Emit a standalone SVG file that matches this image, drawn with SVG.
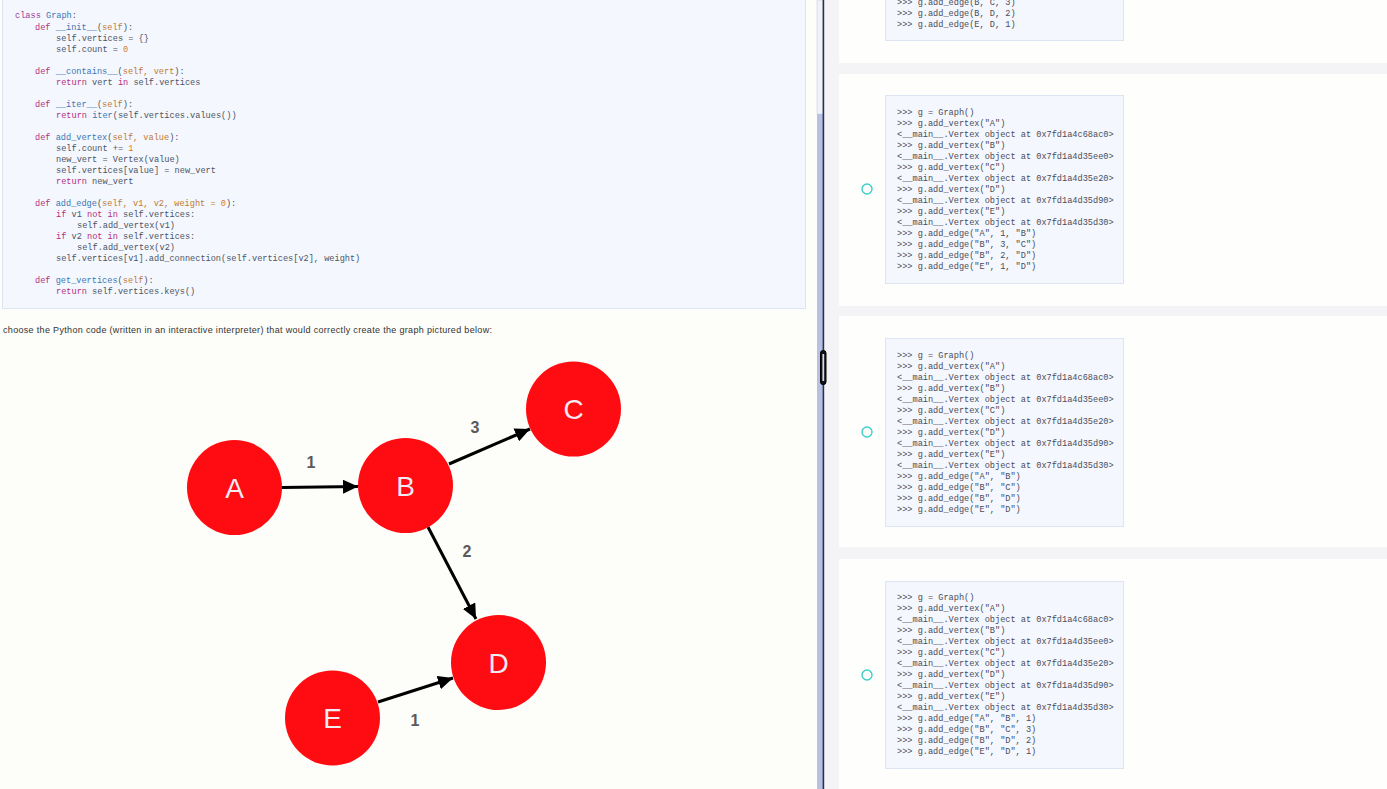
<svg xmlns="http://www.w3.org/2000/svg" width="1387" height="789" viewBox="0 0 1387 789">
<style>
.code{font-family:"Liberation Mono","DejaVu Sans Mono",monospace;font-size:8.6px;fill:#4a5466;white-space:pre}
.kw{fill:#b52f80}
.cl{fill:#9a3a96}
.fn{fill:#3a76b6}
.pa{fill:#c07a34}
.nu{fill:#d9782c}
.rc{font-family:"Liberation Mono","DejaVu Sans Mono",monospace;font-size:8.6px;fill:#4a4c5a;white-space:pre}
.box{fill:#f4f7fd;stroke:#dde4f2;stroke-width:1}
.card{fill:#fefefc}
.radio{fill:none;stroke:#3ccfcb;stroke-width:1.4}
.node{fill:#ff0b12}
.nl{font-family:"Liberation Sans",Arial,sans-serif;font-size:28px;fill:#f4eaf4;text-anchor:middle}
.el{font-family:"Liberation Sans",Arial,sans-serif;font-size:16px;font-weight:bold;fill:#5a5a5a;text-anchor:middle}
.edge{stroke:#000;stroke-width:3;fill:none;marker-end:url(#ah)}
</style>
<defs>
<marker id="ah" markerUnits="userSpaceOnUse" markerWidth="16" markerHeight="14" viewBox="0 0 16 14" refX="15" refY="7" orient="auto">
<path d="M0,0 L15,7 L0,14 Z" fill="#000"/>
</marker>
</defs>
<rect x="0" y="0" width="1387" height="789" fill="#fdfdf9"/>
<!-- right panel background -->
<rect x="823" y="0" width="564" height="789" fill="#f4f4f6"/>
<rect class="card" x="839" y="-5" width="548" height="68"/>
<rect class="card" x="839" y="74" width="548" height="232"/>
<rect class="card" x="839" y="316" width="548" height="231"/>
<rect class="card" x="839" y="559" width="548" height="235"/>
<!-- scrollbar -->
<rect x="817" y="0" width="6" height="114" fill="#f0f2fa" stroke="#c9cfe8" stroke-width="0.6"/>
<rect x="817" y="114" width="6" height="675" fill="#b8c0e3"/>
<rect x="822.6" y="0" width="1.6" height="789" fill="#2b3152"/>
<rect id="scroll-handle" x="820.5" y="350.5" width="5.5" height="34" rx="2.6" fill="#111" stroke="#000"/>
<rect x="822.4" y="354" width="1.8" height="27" fill="#d7dbe9"/>

<!-- left code box -->
<g id="class-code">
<rect class="box" x="2.5" y="-2" width="803" height="310.5"/>
<text class="code" x="15" y="18"><tspan class="cl">class</tspan> <tspan class="fn">Graph</tspan>:</text>
<text class="code" x="35" y="30"><tspan class="kw">def</tspan> <tspan class="fn">__init__</tspan>(<tspan class="pa">self</tspan>):</text>
<text class="code" x="56" y="41">self.vertices = {}</text>
<text class="code" x="56" y="52">self.count = <tspan class="nu">0</tspan></text>
<text class="code" x="35" y="74"><tspan class="kw">def</tspan> <tspan class="fn">__contains__</tspan>(<tspan class="pa">self, vert</tspan>):</text>
<text class="code" x="56" y="85"><tspan class="kw">return</tspan> vert <tspan class="kw">in</tspan> self.vertices</text>
<text class="code" x="35" y="107"><tspan class="kw">def</tspan> <tspan class="fn">__iter__</tspan>(<tspan class="pa">self</tspan>):</text>
<text class="code" x="56" y="118"><tspan class="kw">return</tspan> <tspan class="fn">iter</tspan>(self.vertices.values())</text>
<text class="code" x="35" y="140"><tspan class="kw">def</tspan> <tspan class="fn">add_vertex</tspan>(<tspan class="pa">self, value</tspan>):</text>
<text class="code" x="56" y="151">self.count += <tspan class="nu">1</tspan></text>
<text class="code" x="56" y="162">new_vert = Vertex(value)</text>
<text class="code" x="56" y="173">self.vertices[value] = new_vert</text>
<text class="code" x="56" y="184"><tspan class="kw">return</tspan> new_vert</text>
<text class="code" x="35" y="206"><tspan class="kw">def</tspan> <tspan class="fn">add_edge</tspan>(<tspan class="pa">self, v1, v2, weight = </tspan><tspan class="nu">0</tspan>):</text>
<text class="code" x="56" y="217"><tspan class="kw">if</tspan> v1 <tspan class="kw">not in</tspan> self.vertices:</text>
<text class="code" x="77" y="228">self.add_vertex(v1)</text>
<text class="code" x="56" y="239"><tspan class="kw">if</tspan> v2 <tspan class="kw">not in</tspan> self.vertices:</text>
<text class="code" x="77" y="250">self.add_vertex(v2)</text>
<text class="code" x="56" y="261">self.vertices[v1].add_connection(self.vertices[v2], weight)</text>
<text class="code" x="35" y="283"><tspan class="kw">def</tspan> <tspan class="fn">get_vertices</tspan>(<tspan class="pa">self</tspan>):</text>
<text class="code" x="56" y="294"><tspan class="kw">return</tspan> self.vertices.keys()</text>
</g>

<text id="prompt" x="3" y="333" font-family="Liberation Sans, Arial, sans-serif" font-size="9" fill="#333" textLength="489" lengthAdjust="spacing">choose the Python code (written in an interactive interpreter) that would correctly create the graph pictured below:</text>

<!-- connectors -->
<g id="connectors">
<line class="edge" x1="282" y1="487.5" x2="358" y2="486.5"/>
<line class="edge" x1="449" y1="464" x2="530" y2="429"/>
<line class="edge" x1="428" y1="527" x2="476" y2="619"/>
<line class="edge" x1="378" y1="702" x2="453" y2="678"/>
<text class="el" x="311" y="468">1</text>
<text class="el" x="475" y="433">3</text>
<text class="el" x="467" y="557">2</text>
<text class="el" x="415" y="726">1</text>
</g>

<g id="node-A"><circle class="node" cx="234.5" cy="487.5" r="47.5"/><text class="nl" x="234.5" y="497.5">A</text></g>
<g id="node-B"><circle class="node" cx="405.5" cy="485.5" r="47.5"/><text class="nl" x="405.5" y="495.5">B</text></g>
<g id="node-C"><circle class="node" cx="573.5" cy="409" r="47.5"/><text class="nl" x="573.5" y="419">C</text></g>
<g id="node-D"><circle class="node" cx="498.5" cy="662.5" r="47.5"/><text class="nl" x="498.5" y="672.5">D</text></g>
<g id="node-E"><circle class="node" cx="332.5" cy="718" r="47.5"/><text class="nl" x="332.5" y="728">E</text></g>

<!-- option 1 (partially scrolled) -->
<g id="option-1">
<rect class="box" x="885.5" y="-5" width="238" height="45.5"/>
<text class="rc" x="897" y="5">&gt;&gt;&gt; g.add_edge(B, C, 3)</text>
<text class="rc" x="897" y="16">&gt;&gt;&gt; g.add_edge(B, D, 2)</text>
<text class="rc" x="897" y="27">&gt;&gt;&gt; g.add_edge(E, D, 1)</text>
</g>

<!-- option 2 -->
<g id="option-2">
<circle class="radio" cx="867" cy="189" r="5"/>
<rect class="box" x="885.5" y="95.5" width="238" height="188"/>
<text class="rc" x="897" y="115">&gt;&gt;&gt; g = Graph()</text>
<text class="rc" x="897" y="126">&gt;&gt;&gt; g.add_vertex("A")</text>
<text class="rc" x="897" y="137">&lt;__main__.Vertex object at 0x7fd1a4c68ac0&gt;</text>
<text class="rc" x="897" y="148">&gt;&gt;&gt; g.add_vertex("B")</text>
<text class="rc" x="897" y="159">&lt;__main__.Vertex object at 0x7fd1a4d35ee0&gt;</text>
<text class="rc" x="897" y="170">&gt;&gt;&gt; g.add_vertex("C")</text>
<text class="rc" x="897" y="181">&lt;__main__.Vertex object at 0x7fd1a4d35e20&gt;</text>
<text class="rc" x="897" y="192">&gt;&gt;&gt; g.add_vertex("D")</text>
<text class="rc" x="897" y="203">&lt;__main__.Vertex object at 0x7fd1a4d35d90&gt;</text>
<text class="rc" x="897" y="214">&gt;&gt;&gt; g.add_vertex("E")</text>
<text class="rc" x="897" y="225">&lt;__main__.Vertex object at 0x7fd1a4d35d30&gt;</text>
<text class="rc" x="897" y="236">&gt;&gt;&gt; g.add_edge("A", 1, "B")</text>
<text class="rc" x="897" y="247">&gt;&gt;&gt; g.add_edge("B", 3, "C")</text>
<text class="rc" x="897" y="258">&gt;&gt;&gt; g.add_edge("B", 2, "D")</text>
<text class="rc" x="897" y="269">&gt;&gt;&gt; g.add_edge("E", 1, "D")</text>
</g>

<!-- option 3 -->
<g id="option-3">
<circle class="radio" cx="867" cy="432" r="5"/>
<rect class="box" x="885.5" y="338.5" width="238" height="188"/>
<text class="rc" x="897" y="358">&gt;&gt;&gt; g = Graph()</text>
<text class="rc" x="897" y="369">&gt;&gt;&gt; g.add_vertex("A")</text>
<text class="rc" x="897" y="380">&lt;__main__.Vertex object at 0x7fd1a4c68ac0&gt;</text>
<text class="rc" x="897" y="391">&gt;&gt;&gt; g.add_vertex("B")</text>
<text class="rc" x="897" y="402">&lt;__main__.Vertex object at 0x7fd1a4d35ee0&gt;</text>
<text class="rc" x="897" y="413">&gt;&gt;&gt; g.add_vertex("C")</text>
<text class="rc" x="897" y="424">&lt;__main__.Vertex object at 0x7fd1a4d35e20&gt;</text>
<text class="rc" x="897" y="435">&gt;&gt;&gt; g.add_vertex("D")</text>
<text class="rc" x="897" y="446">&lt;__main__.Vertex object at 0x7fd1a4d35d90&gt;</text>
<text class="rc" x="897" y="457">&gt;&gt;&gt; g.add_vertex("E")</text>
<text class="rc" x="897" y="468">&lt;__main__.Vertex object at 0x7fd1a4d35d30&gt;</text>
<text class="rc" x="897" y="479">&gt;&gt;&gt; g.add_edge("A", "B")</text>
<text class="rc" x="897" y="490">&gt;&gt;&gt; g.add_edge("B", "C")</text>
<text class="rc" x="897" y="501">&gt;&gt;&gt; g.add_edge("B", "D")</text>
<text class="rc" x="897" y="512">&gt;&gt;&gt; g.add_edge("E", "D")</text>
</g>

<!-- option 4 -->
<g id="option-4">
<circle class="radio" cx="867" cy="675" r="5"/>
<rect class="box" x="885.5" y="581.5" width="238" height="187"/>
<text class="rc" x="897" y="600">&gt;&gt;&gt; g = Graph()</text>
<text class="rc" x="897" y="611">&gt;&gt;&gt; g.add_vertex("A")</text>
<text class="rc" x="897" y="622">&lt;__main__.Vertex object at 0x7fd1a4c68ac0&gt;</text>
<text class="rc" x="897" y="633">&gt;&gt;&gt; g.add_vertex("B")</text>
<text class="rc" x="897" y="644">&lt;__main__.Vertex object at 0x7fd1a4d35ee0&gt;</text>
<text class="rc" x="897" y="655">&gt;&gt;&gt; g.add_vertex("C")</text>
<text class="rc" x="897" y="666">&lt;__main__.Vertex object at 0x7fd1a4d35e20&gt;</text>
<text class="rc" x="897" y="677">&gt;&gt;&gt; g.add_vertex("D")</text>
<text class="rc" x="897" y="688">&lt;__main__.Vertex object at 0x7fd1a4d35d90&gt;</text>
<text class="rc" x="897" y="699">&gt;&gt;&gt; g.add_vertex("E")</text>
<text class="rc" x="897" y="710">&lt;__main__.Vertex object at 0x7fd1a4d35d30&gt;</text>
<text class="rc" x="897" y="721">&gt;&gt;&gt; g.add_edge("A", "B", 1)</text>
<text class="rc" x="897" y="732">&gt;&gt;&gt; g.add_edge("B", "C", 3)</text>
<text class="rc" x="897" y="743">&gt;&gt;&gt; g.add_edge("B", "D", 2)</text>
<text class="rc" x="897" y="754">&gt;&gt;&gt; g.add_edge("E", "D", 1)</text>
</g>
</svg>
